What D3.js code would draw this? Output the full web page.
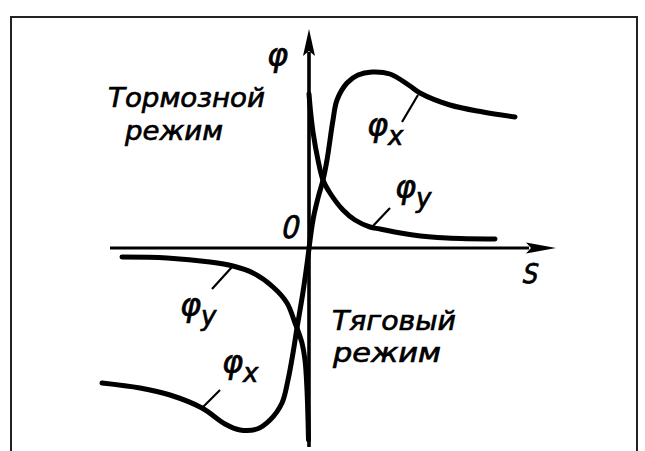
<!DOCTYPE html>
<html>
<head>
<meta charset="utf-8">
<script src="https://cdn.jsdelivr.net/npm/d3@7"></script>
<style>
  html, body { margin: 0; padding: 0; background: #fff; }
  svg { display: block; }
</style>
</head>
<body>
<svg id="chart" width="645" height="451"></svg>
<script>
// φx(s): slip characteristic, one continuous curve through the origin
const sX   = [-1.035, -0.845, -0.695, -0.535, -0.42, -0.345, -0.26, -0.195, -0.135, -0.105, -0.08, -0.06, -0.03, -0.01, 0.02, 0.045, 0.07, 0.09, 0.12, 0.14, 0.19, 0.245, 0.315, 0.405, 0.505, 0.555, 0.705, 0.87, 1.03];
const phiX = [-0.675, -0.70, -0.735, -0.80, -0.88, -0.91, -0.905, -0.86, -0.775, -0.66, -0.525, -0.40, -0.22, -0.08, 0.14, 0.25, 0.34, 0.44, 0.64, 0.74, 0.825, 0.865, 0.88, 0.87, 0.81, 0.775, 0.715, 0.68, 0.655];

// φy(s): two branches, s < 0 and s > 0
const sYNeg   = [-0.935, -0.71, -0.495, -0.38, -0.28, -0.18, -0.11, -0.07, -0.06, -0.035, -0.02, -0.01, -0.0025];
const phiYNeg = [-0.045, -0.05, -0.07, -0.09, -0.125, -0.195, -0.275, -0.375, -0.40, -0.475, -0.56, -0.71, -0.96];
const sYPos   = [0.0, 0.008, 0.02, 0.045, 0.07, 0.105, 0.17, 0.23, 0.305, 0.355, 0.52, 0.69, 0.93];
const phiYPos = [0.77, 0.68, 0.58, 0.44, 0.34, 0.275, 0.19, 0.14, 0.105, 0.095, 0.065, 0.05, 0.045];

// curve labels: [s, φ] of label start, subscript, and leader line [s1, φ1, s2, φ2]
const labelNames = ["x", "y", "y", "x"];
const labelPos   = [[0.29, 0.56], [0.43, 0.25], [-0.645, -0.34], [-0.435, -0.625]];
const leaders    = [[0.545, 0.765, 0.465, 0.63], [0.315, 0.105, 0.405, 0.2], [-0.385, -0.095, -0.485, -0.205], [-0.535, -0.80, -0.445, -0.71]];

// region captions
const captions = [
  { lines: ["Тормозной", "режим"], pos: [[-1.005, 0.705], [-0.92, 0.54]], len: [157, 98] },
  { lines: ["Тяговый", "режим"],   pos: [[0.115, -0.41], [0.12, -0.57]],   len: [124, 108] }
];

const svg = d3.select("#chart");
const x = d3.scaleLinear().domain([-1, 1]).range([109, 509]);
const y = d3.scaleLinear().domain([-1, 1]).range([448, 48]);

// frame
svg.append("path")
  .attr("d", "M11,451 L11,17 L637,17 L637,451")
  .attr("fill", "none").attr("stroke", "#222").attr("stroke-width", 2);

// axes with arrowheads
const axisG = svg.append("g").attr("stroke", "#000").attr("fill", "#000");
axisG.append("line")
  .attr("x1", x(-0.995)).attr("y1", y(0)).attr("x2", x(1.10)).attr("y2", y(0))
  .attr("stroke-width", 3.2);
axisG.append("path")
  .attr("d", `M${x(1.235)},${y(0)} L${x(1.085)},${y(0) - 5.5} L${x(1.11)},${y(0)} L${x(1.085)},${y(0) + 5.5} Z`)
  .attr("stroke", "none");
axisG.append("line")
  .attr("x1", x(0)).attr("y1", y(-0.995)).attr("x2", x(0)).attr("y2", y(0.98))
  .attr("stroke-width", 3.6);
axisG.append("path")
  .attr("d", `M${x(0)},${y(1.095)} L${x(0) - 6},${y(0.96)} L${x(0)},${y(0.985)} L${x(0) + 6},${y(0.96)} Z`)
  .attr("stroke", "none");

// characteristic curves
const line = d3.line().x(d => x(d[0])).y(d => y(d[1])).curve(d3.curveCatmullRom.alpha(0.5));
const curves = [
  d3.zip(sX, phiX),
  d3.zip(sYNeg, phiYNeg),
  d3.zip(sYPos, phiYPos)
];
svg.append("g").selectAll("path").data(curves).join("path")
  .attr("d", line)
  .attr("fill", "none").attr("stroke", "#000")
  .attr("stroke-width", 5).attr("stroke-linecap", "round").attr("stroke-linejoin", "round");

// leader lines
svg.append("g").selectAll("line").data(leaders).join("line")
  .attr("x1", d => x(d[0])).attr("y1", d => y(d[1]))
  .attr("x2", d => x(d[2])).attr("y2", d => y(d[3]))
  .attr("stroke", "#000").attr("stroke-width", 2.2);

// curve labels φx / φy
const symFont = "'DejaVu Sans', sans-serif";
const lab = svg.append("g").attr("font-family", symFont).attr("font-style", "italic")
  .attr("fill", "#000").attr("stroke", "#000").attr("stroke-width", 0.7);
labelPos.forEach((p, i) => {
  const t = lab.append("text").attr("x", x(p[0])).attr("y", y(p[1])).attr("font-size", 32);
  t.append("tspan").text("φ");
  t.append("tspan").attr("font-size", 26).attr("dy", 9).text(labelNames[i]);
});

// axis labels (slanted by a skew so they lean like the captions)
lab.append("text").attr("x", 267).attr("y", 66).attr("font-size", 32).text("φ");
const slanted = [["0", 280, 238, 31], ["S", 521, 283, 27]];
slanted.forEach(([txt, px, py, fs]) => {
  lab.append("text")
    .attr("transform", `translate(${px},${py}) skewX(-13)`)
    .attr("font-style", "normal").attr("font-size", fs)
    .attr("font-family", "'DejaVu Sans Condensed', 'DejaVu Sans', sans-serif")
    .text(txt);
});

// region captions
const capG = svg.append("g")
  .attr("font-family", "'DejaVu Sans Condensed', 'DejaVu Sans', sans-serif")
  .attr("font-style", "italic").attr("font-size", 26)
  .attr("fill", "#000").attr("stroke", "#000").attr("stroke-width", 0.6);
captions.forEach(c => {
  c.lines.forEach((txt, i) => {
    capG.append("text")
      .attr("x", x(c.pos[i][0])).attr("y", y(c.pos[i][1]))
      .attr("textLength", c.len[i]).attr("lengthAdjust", "spacingAndGlyphs")
      .text(txt);
  });
});
</script>
</body>
</html>
